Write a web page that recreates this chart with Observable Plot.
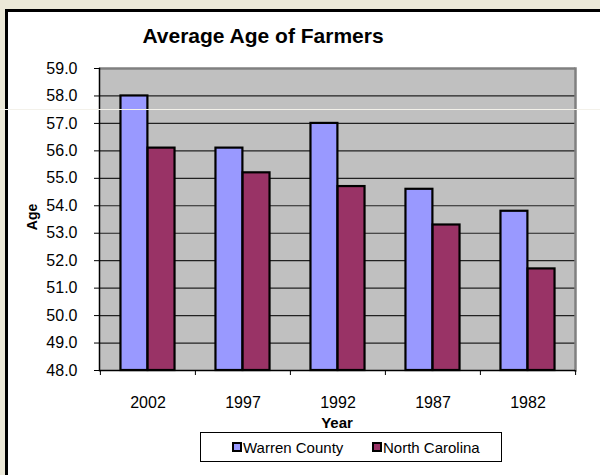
<!DOCTYPE html>
<html>
<head>
<meta charset="utf-8">
<script src="https://cdn.jsdelivr.net/npm/d3@7"></script>
<script src="https://cdn.jsdelivr.net/npm/@observablehq/plot@0.6"></script>
<style>
  html, body { margin: 0; padding: 0; }
  body { width: 600px; height: 475px; overflow: hidden; background: #ECE9D8; position: relative; font-family: "Liberation Sans", Arial, sans-serif; }
  #frame { position: absolute; left: 5px; top: 9px; width: 600px; height: 480px; border-left: 3px solid #000; border-top: 3px solid #000; background: #fff; }
  #title { position: absolute; left: 0; width: 526px; top: 26px; text-align: center; font-size: 21px; line-height: 20px; font-weight: bold; color: #000; }
  #chart { position: absolute; left: 0; top: 0; }
  #ylabel { position: absolute; left: 32px; top: 217px; transform: translate(-50%, -50%) rotate(-90deg); font-size: 14px; font-weight: bold; line-height: 14px; }
  #xlabel { position: absolute; left: 337px; top: 422px; transform: translate(-50%, -50%); font-size: 15px; font-weight: bold; line-height: 15px; }
  #legend { position: absolute; left: 200px; top: 432px; width: 302px; height: 30px; border: 1px solid #000; background: #fff; box-sizing: border-box; }
  .item { position: absolute; top: 6px; font-size: 15px; line-height: 17px; white-space: nowrap; }
  .sw { display: inline-block; width: 6px; height: 6px; border: 2px solid #000; vertical-align: 1px; margin-right: 1px; }
  #artifact { position: absolute; left: 0; top: 109px; width: 600px; height: 1px; background: #F3F1EA; }
</style>
</head>
<body>
<div id="frame"></div>
<div id="title">Average Age of Farmers</div>
<div id="chart"></div>
<div id="ylabel">Age</div>
<div id="xlabel">Year</div>
<div id="legend"></div>
<div id="artifact"></div>
<script>
const years = ["2002", "1997", "1992", "1987", "1982"];
const series = ["Warren County", "North Carolina"];
const warren = [58.0, 56.1, 57.0, 54.6, 53.8];
const northCarolina = [56.1, 55.2, 54.7, 53.3, 51.7];
const colors = ["#9999FF", "#993366"];
const yTicks = [48, 49, 50, 51, 52, 53, 54, 55, 56, 57, 58, 59];

const data = years.flatMap((yr, i) => [
  {year: yr, series: series[0], value: warren[i]},
  {year: yr, series: series[1], value: northCarolina[i]}
]);

const W = 600, H = 440;
const mL = 99, mR = 25, mT = 68, mB = 70;
const band = (W - mL - mR) / years.length;

const chart = Plot.plot({
  width: W, height: H,
  marginLeft: mL, marginRight: mR, marginTop: mT, marginBottom: mB,
  style: {background: "none", fontFamily: "'Liberation Sans', Arial, sans-serif", fontSize: "16px", color: "#000", overflow: "visible"},
  x: {type: "band", domain: years, padding: 0},
  y: {domain: [48, 59]},
  color: {domain: series, range: colors},
  marks: [
    Plot.frame({fill: "#C0C0C0", stroke: null}),
    Plot.ruleY(yTicks.filter(d => d > 48 && d < 59), {stroke: "#222", strokeWidth: 1.2}),
    Plot.ruleY([59], {stroke: "#808080", strokeWidth: 2.5}),
    Plot.frame({anchor: "right", stroke: "#808080", strokeWidth: 2.5}),
    Plot.barY(data.filter(d => d.series === series[0]), {
      x: "year", y1: 48, y2: "value", fill: "series",
      stroke: "#000", strokeWidth: 2.2,
      insetLeft: band * 0.215, insetRight: band * 0.5
    }),
    Plot.barY(data.filter(d => d.series === series[1]), {
      x: "year", y1: 48, y2: "value", fill: "series",
      stroke: "#000", strokeWidth: 2.2,
      insetLeft: band * 0.5, insetRight: band * 0.215
    }),
    Plot.axisY({ticks: yTicks, tickFormat: d3.format(".1f"), tickSize: 5, tickPadding: 17, label: null, fontSize: 16, stroke: "#000"}),
    Plot.axisX({tickSize: 0, tickPadding: 26, label: null, fontSize: 16}),
    Plot.ruleX(years, {x: d => d, dx: -band / 2, y1: 48, y2: 48, insetBottom: -5, stroke: "#000"}),
    Plot.ruleX([years[years.length - 1]], {x: d => d, dx: band / 2, y1: 48, y2: 48, insetBottom: -5, stroke: "#000"}),
    Plot.ruleY([48], {stroke: "#000", strokeWidth: 1.5}),
    Plot.frame({anchor: "left", stroke: "#000", strokeWidth: 1.5})
  ]
});
document.getElementById("chart").appendChild(chart);

const legend = document.getElementById("legend");
const lx = [31, 171];
series.forEach((s, i) => {
  const it = document.createElement("div");
  it.className = "item";
  it.style.left = lx[i] + "px";
  const sw = document.createElement("span");
  sw.className = "sw";
  sw.style.background = colors[i];
  it.appendChild(sw);
  it.appendChild(document.createTextNode(s));
  legend.appendChild(it);
});
</script>
</body>
</html>
